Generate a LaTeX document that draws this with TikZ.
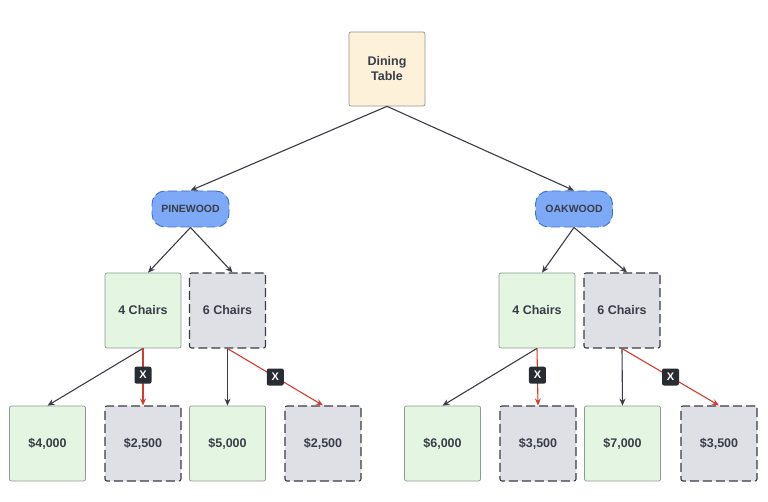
\documentclass[tikz,border=0pt]{standalone}
\usepackage{fontspec}
\setmainfont{Liberation Sans}
\usetikzlibrary{arrows.meta}
\definecolor{txt}{HTML}{383D48}
\definecolor{greenfill}{HTML}{E4F6E1}
\definecolor{greenline}{HTML}{8E9A8E}
\definecolor{grayfill}{HTML}{DEE0E6}
\definecolor{grayline}{HTML}{3A3D45}
\definecolor{tanfill}{HTML}{FDF1DA}
\definecolor{blue1}{HTML}{7EA9F6}
\definecolor{blue2}{HTML}{3A6FD8}
\definecolor{redline}{HTML}{D63B2F}
\definecolor{edge}{HTML}{3A3D45}
\definecolor{xbox}{HTML}{282C33}
\begin{document}
\begin{tikzpicture}[x=1pt,y=-1pt,
  box/.style={rectangle,rounded corners=2pt,minimum width=76pt,minimum height=75pt,inner sep=0pt,
    font=\fontsize{12.5}{15}\selectfont\bfseries,text=txt,align=center},
  okbox/.style={box,fill=greenfill,draw=greenline,line width=0.7pt},
  nobox/.style={box,fill=grayfill,draw=grayline,line width=1.1pt,dash pattern=on 9pt off 4pt},
  topbox/.style={box,fill=tanfill,draw=greenline,line width=0.7pt,minimum height=74pt},
  wood/.style={rectangle,rounded corners=13pt,minimum width=77pt,minimum height=36pt,inner sep=0pt,
    fill=blue1,draw=blue2,line width=0.9pt,dash pattern=on 9pt off 4pt,
    font=\fontsize{10.5}{12}\selectfont\bfseries,text=txt},
  conn/.style={draw=edge,line width=1.1pt,-{Stealth[length=7pt,width=6pt]}},
  rconn/.style={draw=redline,line width=1.1pt,-{Stealth[length=7pt,width=6pt]}},
  xlab/.style={rectangle,rounded corners=2pt,fill=xbox,text=white,inner sep=0pt,minimum width=17pt,minimum height=17pt,
    font=\fontsize{11}{12}\selectfont\bfseries}
]
\useasboundingbox (0,0) rectangle (768,502);
\fill[white] (0,0) rectangle (768,502);

\node[topbox] (dt) at (387,69) {Dining\\Table};
\node[wood] (pw) at (190.5,209) {PINEWOOD};
\node[wood] (ow) at (574,209) {OAKWOOD};

\node[okbox] (c4l) at (143,310.5) {4 Chairs};
\node[nobox] (c6l) at (227.5,310.5) {6 Chairs};
\node[okbox] (c4r) at (537,310.5) {4 Chairs};
\node[nobox] (c6r) at (622,310.5) {6 Chairs};

\node[okbox] (l1) at (47.5,443.5) {\$4,000};
\node[nobox] (l2) at (143,443.5) {\$2,500};
\node[okbox] (l3) at (227.5,443.5) {\$5,000};
\node[nobox] (l4) at (323,443.5) {\$2,500};
\node[okbox] (l5) at (442.5,443.5) {\$6,000};
\node[nobox] (l6) at (538,443.5) {\$3,500};
\node[okbox] (l7) at (622.5,443.5) {\$7,000};
\node[nobox] (l8) at (719,443.5) {\$3,500};

\draw[conn] (dt.south) -- (pw.north);
\draw[conn] (dt.south) -- (ow.north);
\draw[conn] (pw.south) -- ([xshift=5pt]c4l.north);
\draw[conn] (pw.south) -- ([xshift=5pt]c6l.north);
\draw[conn] (ow.south) -- ([xshift=5pt]c4r.north);
\draw[conn] (ow.south) -- ([xshift=5pt]c6r.north);

\draw[conn] (c4l.south) -- (l1.north);
\draw[rconn] (c4l.south) -- node[xlab,pos=0.47] (x1) {X} (l2.north);
\draw[conn] (c6l.south) -- (l3.north);
\draw[rconn] (c6l.south) -- node[xlab,pos=0.5] (x2) {X} (l4.north);

\draw[conn] (c4r.south) -- (l5.north);
\draw[rconn] (c4r.south) -- node[xlab,pos=0.47] (x3) {X} (l6.north);
\draw[conn] (c6r.south) -- (l7.north);
\draw[rconn] (c6r.south) -- node[xlab,pos=0.5] (x4) {X} (l8.north);
\end{tikzpicture}
\end{document}
